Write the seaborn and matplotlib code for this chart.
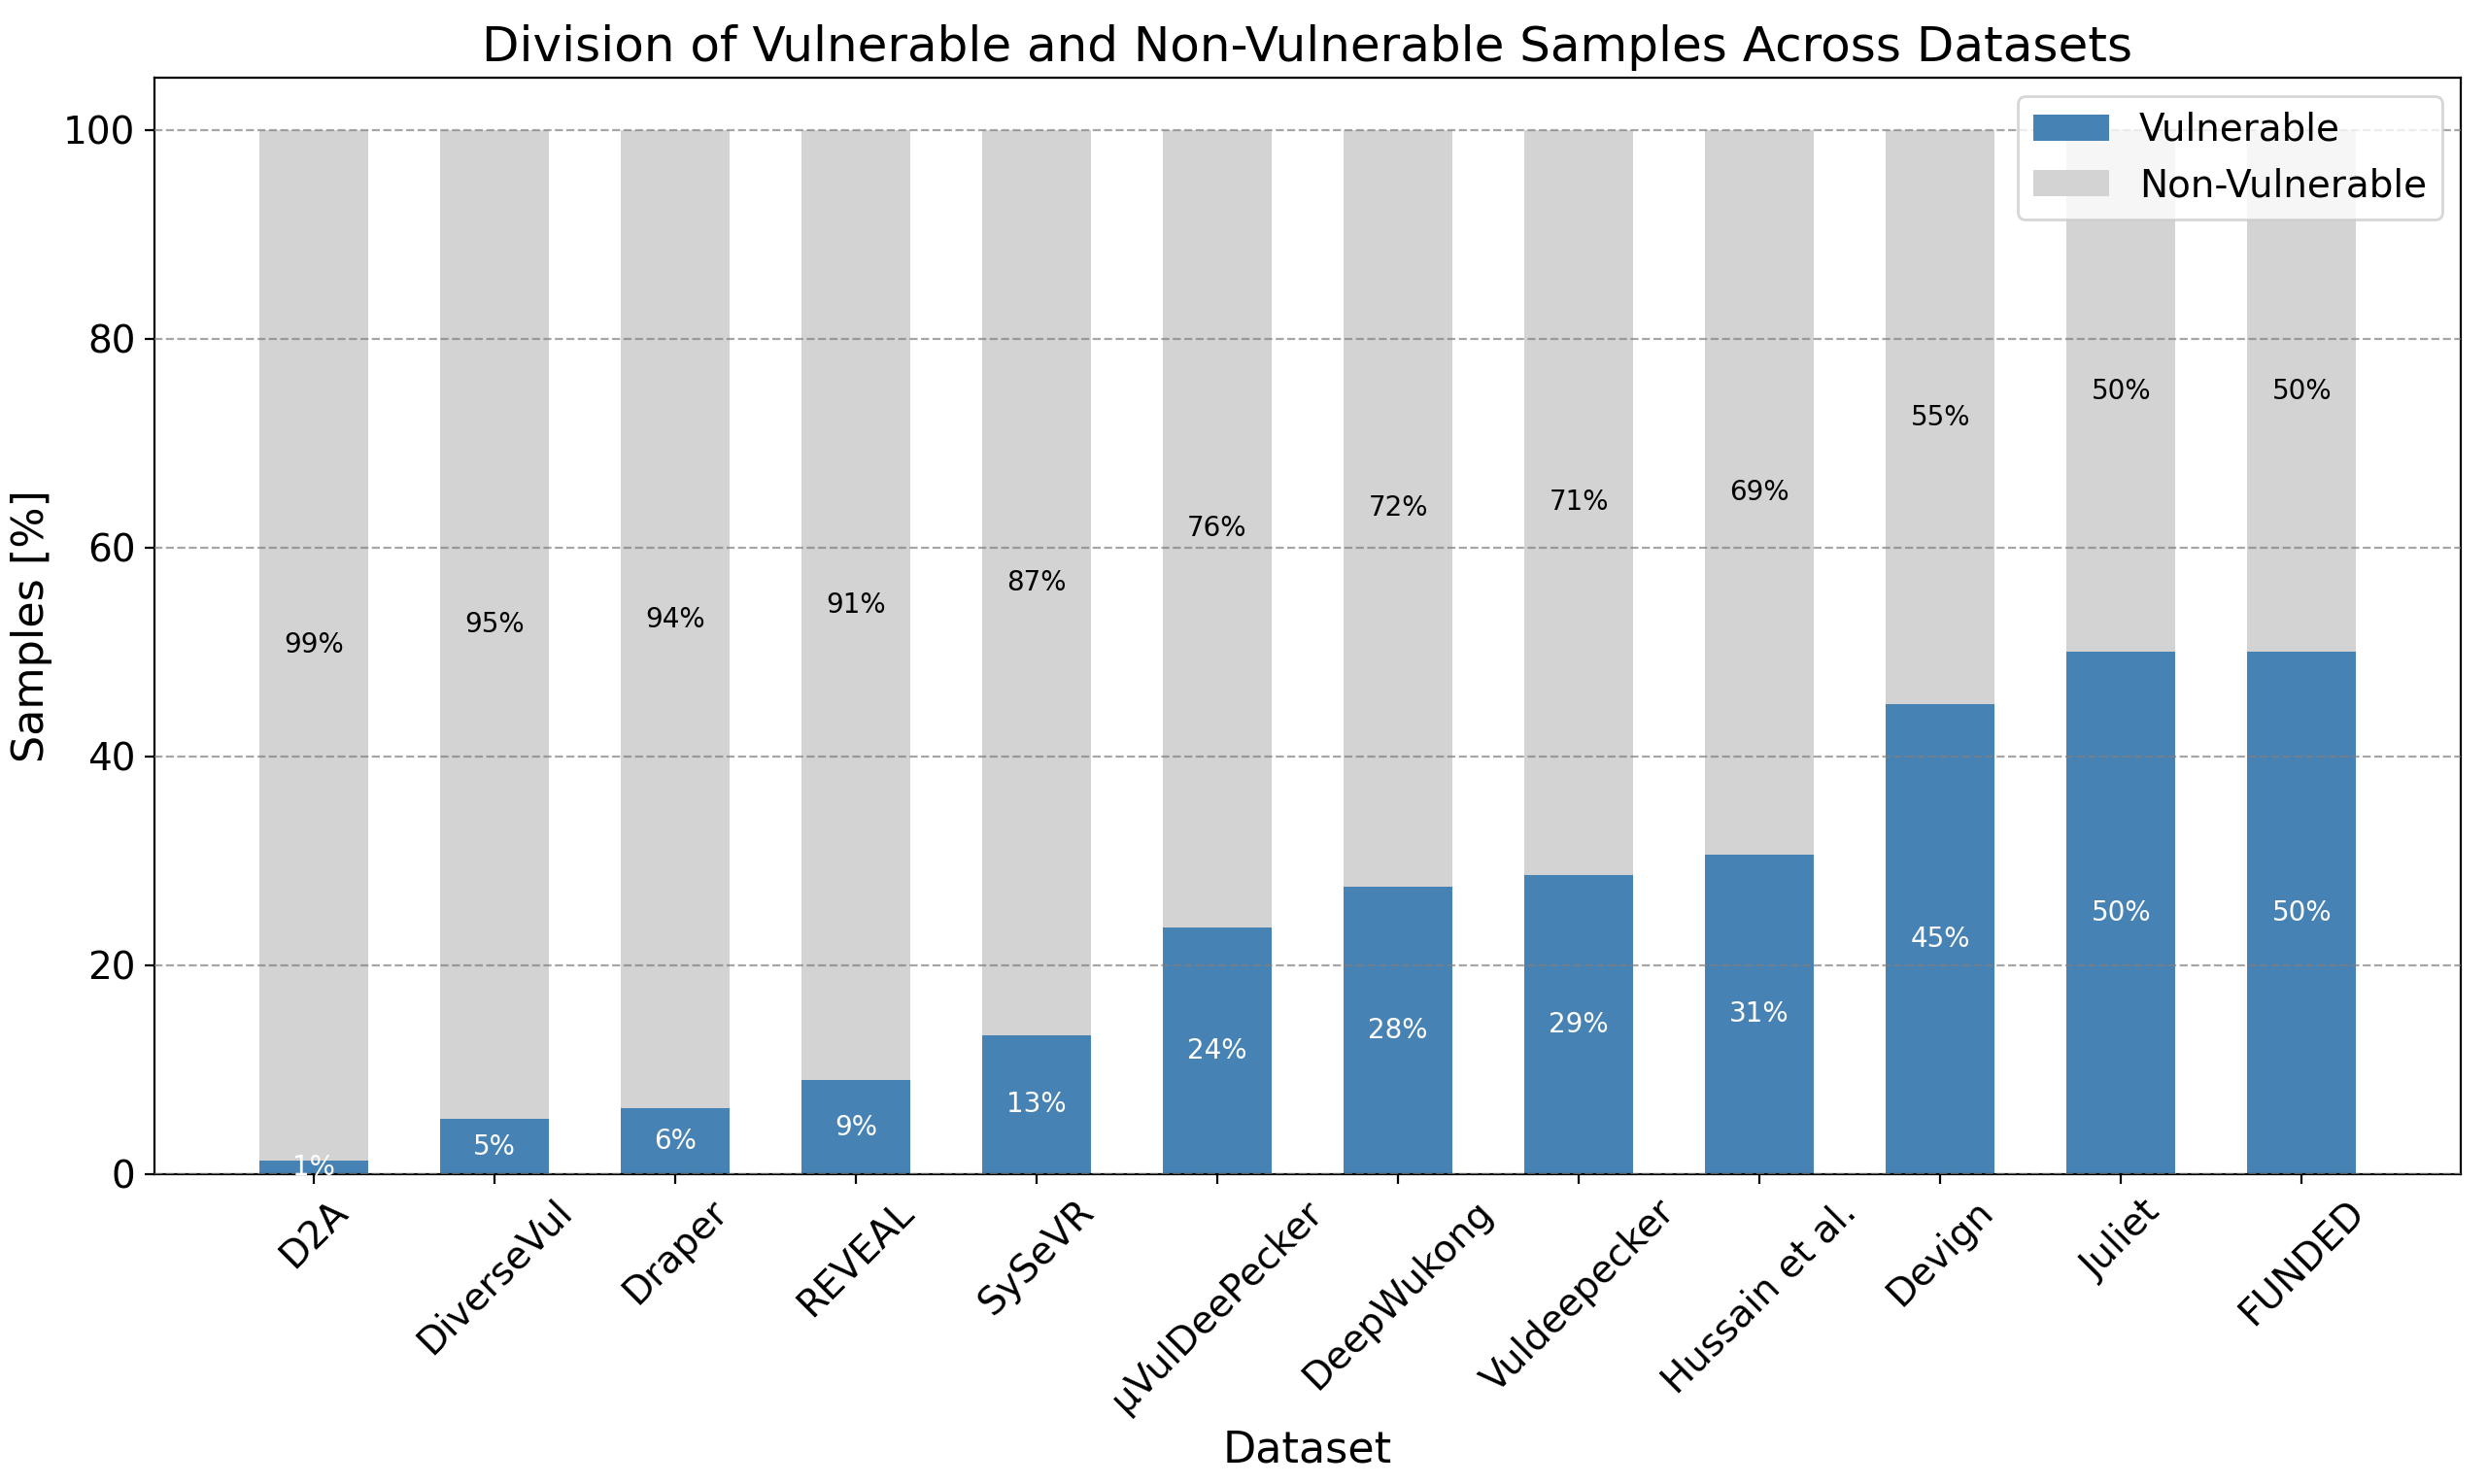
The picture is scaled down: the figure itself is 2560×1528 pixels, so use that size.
import matplotlib
matplotlib.use("Agg")
import matplotlib.pyplot as plt
import seaborn as sns
import pandas as pd
import numpy as np

datasets = ["D2A", "DiverseVul", "Draper", "REVEAL", "SySeVR", "µVulDeePecker",
            "DeepWukong", "Vuldeepecker", "Hussain et al.", "Devign", "Juliet", "FUNDED"]
vulnerable = [1.3, 5.3, 6.3, 9.0, 13.3, 23.65, 27.56, 28.68, 30.63, 44.97, 50.0, 50.0]
total = [100] * len(datasets)

plt.rcParams['font.family'] = ['DejaVu Sans']

df = pd.DataFrame({"Dataset": datasets, "Vulnerable": vulnerable, "Total": total})
df["NonVulnerable"] = df["Total"] - df["Vulnerable"]

fig, ax = plt.subplots(figsize=(12.8, 7.64), dpi=200)
width = 0.6
sns.barplot(data=df, x="Dataset", y="Total", color="lightgray", width=width,
            saturation=1, ax=ax, label="Non-Vulnerable", zorder=1)
sns.barplot(data=df, x="Dataset", y="Vulnerable", color="steelblue", width=width,
            saturation=1, ax=ax, label="Vulnerable", zorder=1)

n = len(datasets)
span = n - 1 + width
ax.set_xlim(-width / 2 - 0.05 * span, n - 1 + width / 2 + 0.05 * span)
ax.set_ylim(0, 105)
ax.set_axisbelow(False)
ax.yaxis.grid(True, linestyle="--", color="gray", alpha=0.7)
ax.xaxis.grid(False)

for i, (v, nv) in enumerate(zip(df["Vulnerable"], df["NonVulnerable"])):
    ax.text(i, v / 2, f"{v:.0f}%", ha="center", va="center", color="white", fontsize=10)
    ax.text(i, v + nv / 2, f"{nv:.0f}%", ha="center", va="center", color="black", fontsize=10)

ax.set_title("Division of Vulnerable and Non-Vulnerable Samples Across Datasets", fontsize=18)
ax.set_xlabel("Dataset", fontsize=16)
ax.set_ylabel("Samples [%]", fontsize=16)
ax.tick_params(axis="both", labelsize=14)
plt.setp(ax.get_xticklabels(), rotation=45)

handles, labels = ax.get_legend_handles_labels()
order = [labels.index("Vulnerable"), labels.index("Non-Vulnerable")]
ax.legend([handles[k] for k in order], [labels[k] for k in order], loc="upper right", fontsize=14)

fig.subplots_adjust(left=159 / 2560, right=2533 / 2560, top=1 - 80 / 1528, bottom=1 - 1209 / 1528)
fig.savefig("out.png", dpi=200)
